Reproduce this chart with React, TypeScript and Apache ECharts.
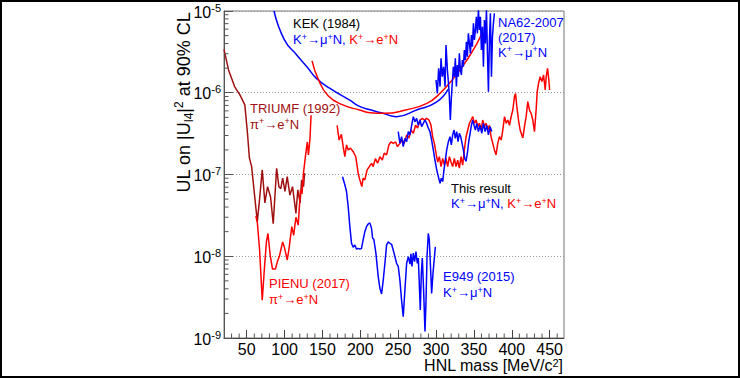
import React, { useEffect, useRef } from 'react';
import * as echarts from 'echarts';

const FONT = '"Liberation Sans", Arial, Helvetica, sans-serif';
const BLUE = '#0000ff';
const RED = '#ff0000';
const DARKRED = '#a01010';

// Axis ticks
const xMajorTicks = [50, 100, 150, 200, 250, 300, 350, 400, 450];
const xMinorTicks = [30, 40, 60, 70, 80, 90, 110, 120, 130, 140, 160, 170, 180, 190, 210, 220, 230, 240, 260, 270, 280, 290, 310, 320, 330, 340, 360, 370, 380, 390, 410, 420, 430, 440, 460];
const yMinorTicks = [
  2e-9, 3e-9, 4e-9, 5e-9, 6e-9, 7e-9, 8e-9, 9e-9,
  2e-8, 3e-8, 4e-8, 5e-8, 6e-8, 7e-8, 8e-8, 9e-8,
  2e-7, 3e-7, 4e-7, 5e-7, 6e-7, 7e-7, 8e-7, 9e-7,
  2e-6, 3e-6, 4e-6, 5e-6, 6e-6, 7e-6, 8e-6, 9e-6,
];

// [HNL mass (MeV/c^2), upper limit |U|^2]
const triumf1992 = [
  [20, 3.4e-6], [26, 1.9e-6], [34, 1.19e-6], [41, 9.4e-7], [47.5, 7.1e-7], [51, 3.2e-7], [53.5, 1.6e-7],
  [56.5, 1.25e-7], [61, 4.9e-8], [64, 2.65e-8], [66.5, 4.5e-8], [70.5, 1.14e-7], [74, 4.5e-8], [77.5, 7.1e-8],
  [81.5, 5.3e-8], [85, 2.5e-8], [89.5, 1.19e-7], [92.5, 7.1e-8], [95, 6.7e-8], [97.5, 9.0e-8], [100.5, 6.2e-8],
  [103.5, 9.4e-8], [107, 5.6e-8], [110.5, 7.1e-8], [115, 3.35e-8], [117.5, 6.5e-8], [120.5, 4.5e-8],
  [122.5, 8.6e-8], [125, 7.1e-8], [126.5, 1.04e-7],
];

const pienu2017 = [
  [62, 3.1e-8], [64, 2.6e-8], [67, 1.2e-8], [70.5, 2.9e-9], [73.5, 7.4e-9], [76, 1.5e-8], [78, 1.9e-8],
  [81, 1.03e-8], [84, 7.0e-9], [88, 7.0e-9], [90.5, 8.6e-9], [93, 9.9e-9], [97.5, 1.5e-8], [100, 1.26e-8],
  [103.5, 9.0e-9], [106, 1.26e-8], [109.5, 2.3e-8], [112, 1.8e-8], [115, 3.0e-8], [118, 2.4e-8],
  [121, 6.5e-8], [123, 5.8e-8], [125, 1.05e-7], [128, 1.8e-7], [130, 2.5e-7], [131.5, 1.74e-7],
  [133.5, 2.7e-7], [135, 5.3e-7],
];

const kekMu1984 = [
  [86, 1.0e-5], [100, 4.4e-6], [116, 2.9e-6], [130, 2.05e-6], [142, 1.5e-6], [160, 1.13e-6], [186, 8.1e-7],
  [199, 6.8e-7], [213, 6.2e-7], [230, 5.6e-7], [248, 5.1e-7], [275, 6.2e-7], [300, 7.6e-7], [316, 1.1e-6],
];

const kekE1984 = [
  [136.3, 2.45e-6], [144, 1.5e-6], [157.5, 9.2e-7], [177, 7.1e-7], [199, 6.15e-7], [213, 5.7e-7],
  [232, 5.6e-7], [261, 6.2e-7], [288, 7.4e-7], [305, 9.8e-7], [323, 1.5e-6], [340.6, 2.5e-6],
  [354, 4.0e-6], [360.4, 5.3e-6],
];

const na62Mu2017 = [
  [300.0, 1.43e-6], [301.7, 9.8e-7], [303.5, 1.99e-6], [305.3, 1.19e-6], [306.6, 2.64e-6], [308.3, 1.57e-6],
  [310.1, 2.08e-6], [311.9, 1.19e-6], [313.2, 3.84e-6], [315, 1.9e-6], [316.3, 1.37e-6], [317.6, 8.95e-7],
  [318.9, 4.64e-7], [320.2, 8.54e-7], [321.6, 1.37e-6], [322.9, 2.08e-6], [324.2, 1.57e-6], [325.5, 2.64e-6],
  [326.9, 1.19e-6], [328.2, 2.18e-6], [329.5, 1.57e-6], [330.8, 3.03e-6], [332.2, 1.9e-6], [333.5, 1.65e-6],
  [334.8, 2.51e-6], [336.1, 2.08e-6], [337.4, 3.33e-6], [338.8, 2.51e-6], [340.1, 4.21e-6], [341.4, 2.76e-6],
  [342.7, 5.33e-6], [344.1, 4.02e-6], [345.4, 3.03e-6], [346.7, 5.08e-6], [348, 3.66e-6], [349.4, 7.06e-6],
  [350.7, 4.42e-6], [352, 5.86e-6], [353.3, 8.52e-6], [354.6, 5.33e-6], [356, 1.05e-5], [357.3, 5.86e-6],
  [358.6, 8.52e-6], [359.9, 3.33e-6], [361.3, 6.43e-6], [362.6, 2.08e-6], [363.9, 7.76e-6], [365.2, 4.02e-6],
  [366.6, 1.05e-5], [367.9, 3.03e-6], [369.2, 1.03e-6], [370.5, 4.42e-6], [371.8, 9.36e-6], [373.2, 1.57e-6],
  [374.5, 4.85e-6], [375.8, 7.06e-6], [377.1, 9.36e-6],
];

const e949Mu2015 = [
  [176.5, 9.4e-8], [179.6, 7.5e-8], [181.8, 6.2e-8], [184, 4.05e-8], [186.2, 2.3e-8], [188.4, 1.44e-8],
  [190.6, 1.29e-8], [192.8, 1.37e-8], [195, 1.22e-8], [197.2, 1.25e-8], [199.4, 1.22e-8], [201.6, 1.25e-8],
  [203.8, 1.6e-8], [206, 2.0e-8], [208.2, 2.3e-8], [210.4, 2.48e-8], [212.6, 2.56e-8], [214.8, 2.2e-8],
  [216.2, 1.67e-8], [217.9, 1.6e-8], [220.6, 1.09e-8], [223.7, 5.6e-9], [225.9, 4.05e-9], [228.1, 3.45e-9],
  [230.3, 5.1e-9], [232.5, 8.2e-9], [234.7, 1.37e-8], [236.9, 1.5e-8], [239.1, 1.44e-8], [241.3, 1.4e-8],
  [243.5, 1.19e-8], [245.7, 9.9e-9], [247.9, 8.2e-9], [250.1, 7.5e-9], [252.3, 5.1e-9], [254.5, 2.9e-9],
  [256.7, 1.82e-9], [258.9, 3.87e-9], [261.2, 8.2e-9], [263.4, 9.9e-9], [265.6, 8.0e-9], [266.9, 1.07e-8],
  [268.2, 7.5e-9], [270, 1.09e-8], [271.7, 8.6e-9], [273.5, 1.14e-8], [275.3, 8.2e-9], [276.6, 9.5e-9],
  [277.9, 4.66e-9], [279.2, 2.2e-9], [280.6, 6.2e-9], [281.9, 9.5e-9], [283.6, 3.87e-9], [285.4, 1.2e-9],
  [286.7, 2.65e-9], [288.1, 9.9e-9], [289.8, 1.9e-8], [291.1, 1.6e-8], [292.9, 6.8e-9], [294.2, 3.5e-9],
  [296, 6.2e-9], [297.8, 9.5e-9], [299.1, 1.3e-8],
];

const thisResultE = [
  [169.4, 4.0e-7], [172, 2.64e-7], [175, 3.1e-7], [177.4, 2.19e-7], [179.6, 1.65e-7], [181.8, 2.3e-7],
  [184, 2.0e-7], [187, 2.1e-7], [190.6, 1.9e-7], [194, 1.65e-7], [197.2, 1.03e-7], [199.4, 8.6e-8],
  [202, 7.1e-8], [203.8, 9.0e-8], [206, 8.6e-8], [209, 1.14e-7], [211.8, 1.25e-7], [214.8, 1.37e-7],
  [217, 1.25e-7], [220, 1.57e-7], [222.8, 1.37e-7], [226, 1.65e-7], [229, 1.5e-7], [231.6, 1.82e-7],
  [234.7, 1.74e-7], [237.8, 2.3e-7], [240.4, 2.5e-7], [243.5, 2.4e-7], [246.6, 2.5e-7], [249.2, 2.19e-7],
  [252.3, 2.4e-7], [255.4, 2.64e-7], [258, 2.4e-7], [261.2, 3.05e-7], [264.2, 2.8e-7], [267, 3.5e-7],
  [270, 3.19e-7], [273, 4.0e-7], [275.7, 3.7e-7], [278.8, 4.64e-7], [282, 4.85e-7], [284.5, 4.64e-7],
  [287.6, 4.85e-7], [290.7, 4.64e-7], [293.4, 4.0e-7], [295.5, 2.9e-7], [297.8, 2.4e-7], [300, 1.82e-7],
  [302.2, 1.42e-7], [304.4, 1.65e-7], [306.6, 1.25e-7], [308.8, 1.57e-7], [311, 1.3e-7], [313.2, 1.57e-7],
  [315.4, 1.25e-7], [317.6, 1.65e-7], [319.8, 1.42e-7], [322, 1.25e-7], [324.2, 1.57e-7], [326.4, 1.25e-7],
  [328.6, 1.5e-7], [330.8, 1.2e-7], [333, 1.65e-7], [335.2, 1.3e-7], [337.4, 2.0e-7], [339.7, 2.9e-7],
  [341.9, 3.5e-7], [344.1, 4.23e-7], [346.3, 4.64e-7], [348.5, 5.1e-7], [350.7, 4.23e-7], [352.9, 4.64e-7],
  [355.1, 3.85e-7], [357.3, 4.23e-7], [359.5, 3.5e-7], [361.7, 4.64e-7], [363.9, 3.85e-7], [366.1, 4.23e-7],
  [368.3, 3.5e-7], [370.5, 4.0e-7], [372.7, 2.9e-7], [374.9, 2.4e-7], [377.1, 2.0e-7], [379.3, 1.74e-7],
  [381.5, 2.4e-7], [383.8, 2.9e-7], [386, 2.64e-7], [388.2, 3.5e-7], [390.4, 5.1e-7], [392.6, 4.23e-7],
  [394.8, 4.64e-7], [397, 4.0e-7], [399.2, 5.1e-7], [401.4, 6.15e-7], [403.6, 8.95e-7], [405, 9.8e-7],
  [406.7, 6.8e-7], [408.9, 4.64e-7], [411.1, 3.5e-7], [413.3, 3.05e-7], [414.6, 2.8e-7], [416.8, 3.85e-7],
  [419, 5.1e-7], [421.2, 7.8e-7], [423.4, 6.15e-7], [425.6, 5.6e-7], [427.8, 4.64e-7], [430, 3.35e-7],
  [432.3, 6.4e-7], [433.6, 1.03e-6], [435.4, 1.3e-6], [437.5, 1.57e-6], [439.8, 1.37e-6], [442, 1.65e-6],
  [444.2, 1.08e-6], [445.5, 1.57e-6], [447.3, 1.99e-6], [449, 1.43e-6], [450, 1.08e-6],
];

const thisResultMu = [
  [250.1, 3.35e-7], [252.3, 2.4e-7], [254.5, 2.9e-7], [256.7, 2.19e-7], [258.9, 2.77e-7], [261.2, 2.52e-7],
  [263.4, 3.35e-7], [265.6, 3.05e-7], [267.8, 4.0e-7], [270, 5.1e-7], [272.2, 4.43e-7], [274.4, 4.85e-7],
  [276.6, 4.0e-7], [278.8, 4.64e-7], [281, 3.85e-7], [283.2, 4.23e-7], [285.4, 4.64e-7], [287.6, 4.23e-7],
  [289.8, 3.7e-7], [292, 3.35e-7], [294.2, 2.64e-7], [296.4, 2.0e-7], [298.6, 1.5e-7], [300.9, 1.14e-7],
  [303.1, 9.4e-8], [305.3, 7.8e-8], [307, 9.0e-8], [308.8, 8.2e-8], [310.5, 1.14e-7], [312.3, 1.5e-7],
  [314.1, 2.0e-7], [316.3, 2.52e-7], [318.5, 2.9e-7], [320.2, 2.3e-7], [322, 3.05e-7], [323.8, 3.5e-7],
  [325.5, 2.77e-7], [327.3, 3.35e-7], [329.1, 2.52e-7], [330.8, 3.19e-7], [332.6, 2.9e-7], [334.4, 2.4e-7],
  [336.1, 2.0e-7], [337.9, 1.57e-7], [339.6, 1.45e-7], [341.4, 1.82e-7], [343.2, 2.52e-7], [345, 3.19e-7],
  [346.7, 4.0e-7], [348.5, 4.64e-7], [350.2, 4.0e-7], [352, 3.5e-7], [353.8, 4.23e-7], [356, 3.35e-7],
  [358.2, 4.0e-7], [360.4, 3.19e-7], [362.6, 4.23e-7], [364.8, 3.35e-7], [367, 4.0e-7], [369.2, 3.05e-7],
  [371.4, 3.85e-7], [373.6, 3.35e-7],
];

function txt(color: string) {
  return { fontSize: 13, lineHeight: 14, verticalAlign: 'bottom', fill: color, color, fontFamily: FONT };
}
function sup(color: string) {
  return { fontSize: 9, lineHeight: 8, verticalAlign: 'top', fill: color, color, fontFamily: FONT };
}
const annRich = {
  k: txt('#000'), b: txt(BLUE), bs: sup(BLUE), r: txt(RED), rs: sup(RED), d: txt(DARKRED), ds: sup(DARKRED),
};

function ann(x: number, y: number, text: string) {
  return {
    type: 'text', x, y, silent: true, z: 100,
    style: { text, rich: annRich, align: 'left', verticalAlign: 'middle', font: `13px ${FONT}` },
  };
}

const muLine = '{b|K}{bs|+}{b|→μ}{bs|+}{b|N}';
const bothLine = '{b|K}{bs|+}{b|→μ}{bs|+}{b|N, }{r|K}{rs|+}{r|→e}{rs|+}{r|N}';

function lineSeries(name: string, data: number[][], color: string, smooth = false) {
  return {
    type: 'line', name, data, showSymbol: false, symbol: 'none', smooth, silent: true, clip: true,
    lineStyle: { color, width: 1.5 }, itemStyle: { color }, z: 3,
  };
}

export default function App() {
  const ref = useRef<HTMLDivElement>(null);
  useEffect(() => {
    document.body.style.margin = '0';
    if (!ref.current) return;
    const chart = echarts.init(ref.current, undefined, { renderer: 'svg' });
    const tickData = [
      ...xMinorTicks.map((v) => [v, 1e-9, 0]),
      ...yMinorTicks.map((v) => [20, v, 1]),
    ];
    chart.setOption({
      animation: false,
      backgroundColor: '#fff',
      grid: { left: 224, top: 11, width: 340, height: 327, show: true, borderColor: '#777', borderWidth: 1, backgroundColor: 'transparent' },
      xAxis: {
        type: 'value', min: 20, max: 469,
        axisLine: { show: true, lineStyle: { color: '#444', width: 1 } },
        axisTick: { show: true, inside: true, length: 8, customValues: xMajorTicks, lineStyle: { color: '#444' } },
        axisLabel: { customValues: xMajorTicks, fontSize: 16, color: '#000', margin: 3, fontFamily: FONT },
        splitLine: { show: false },
      },
      yAxis: {
        type: 'log', logBase: 10, min: 1e-9, max: 1e-5,
        axisLine: { show: true, lineStyle: { color: '#555', width: 1 } },
        axisTick: { show: true, inside: true, length: 9, lineStyle: { color: '#555' } },
        axisLabel: {
          margin: 3,
          formatter: (v: number) => `{b|10}{s|${Math.round(Math.log10(v))}}`,
          rich: {
            b: { fontSize: 16, lineHeight: 16, verticalAlign: 'bottom', color: '#000', fontFamily: FONT },
            s: { fontSize: 11, lineHeight: 18, padding: [0, 0, 3, 0], verticalAlign: 'top', color: '#000', fontFamily: FONT },
          },
        },
        splitLine: { show: true, lineStyle: { type: [1, 2], color: '#999', width: 1 } },
      },
      series: [
        lineSeries('TRIUMF (1992)', triumf1992, DARKRED),
        lineSeries('PIENU (2017)', pienu2017, RED),
        lineSeries('KEK (1984) mu', kekMu1984, BLUE, true),
        lineSeries('KEK (1984) e', kekE1984, RED, true),
        lineSeries('NA62-2007 (2017)', na62Mu2017, BLUE),
        lineSeries('E949 (2015)', e949Mu2015, BLUE),
        lineSeries('This result e', thisResultE, RED),
        lineSeries('This result mu', thisResultMu, BLUE),
        {
          type: 'custom', silent: true, z: 5, clip: false, data: tickData,
          renderItem: (_p: any, api: any) => {
            const pt = api.coord([api.value(0), api.value(1)]);
            const kind = api.value(2);
            const shape = kind === 0
              ? { x1: pt[0], y1: pt[1], x2: pt[0], y2: pt[1] - 4.5 }
              : { x1: pt[0], y1: pt[1], x2: pt[0] + 4.5, y2: pt[1] };
            return { type: 'line', shape, style: { stroke: '#555', lineWidth: 1 } };
          },
        },
      ],
      graphic: [
        { type: 'rect', silent: true, shape: { x: 1, y: 1, width: 738, height: 376 }, style: { fill: 'none', stroke: '#000', lineWidth: 2 } },
        ann(293, 23, '{k|KEK (1984)}'),
        ann(293, 39, bothLine),
        ann(498, 21.5, '{b|NA62-2007}'),
        ann(498, 36.5, '{b|(2017)}'),
        ann(498, 51.5, muLine),
        ann(250, 108, '{d|TRIUMF (1992)}'),
        ann(250, 123.5, '{d|π}{ds|+}{d|→e}{ds|+}{d|N}'),
        ann(451, 188.3, '{k|This result}'),
        ann(451, 203, bothLine),
        ann(443, 276.3, '{b|E949 (2015)}'),
        ann(443, 292, muLine),
        ann(269, 283.3, '{r|PIENU (2017)}'),
        ann(269, 299, '{r|π}{rs|+}{r|→e}{rs|+}{r|N}'),
        {
          type: 'text', x: 563, y: 365, silent: true,
          style: {
            text: '{t|HNL mass [MeV/c}{s|2}{t|]}', align: 'right', verticalAlign: 'middle',
            rich: {
              t: { fontSize: 16, lineHeight: 16, verticalAlign: 'bottom', fill: '#000', fontFamily: FONT },
              s: { fontSize: 11, lineHeight: 11, verticalAlign: 'top', fill: '#000', fontFamily: FONT },
            },
          },
        },
        {
          type: 'text', x: 184, y: 102.5, rotation: Math.PI / 2, silent: true,
          style: {
            text: '{t|UL on |U}{sub|l4}{t||}{s|2}{t| at 90% CL}', align: 'center', verticalAlign: 'middle',
            rich: {
              t: { fontSize: 18, lineHeight: 22, verticalAlign: 'middle', fill: '#000', fontFamily: FONT },
              sub: { fontSize: 12, lineHeight: 12, verticalAlign: 'bottom', fill: '#000', fontFamily: FONT },
              s: { fontSize: 12, lineHeight: 12, verticalAlign: 'top', fill: '#000', fontFamily: FONT },
            },
          },
        },
      ],
    });
    return () => chart.dispose();
  }, []);
  return <div ref={ref} style={{ width: 740, height: 378 }} />;
}
